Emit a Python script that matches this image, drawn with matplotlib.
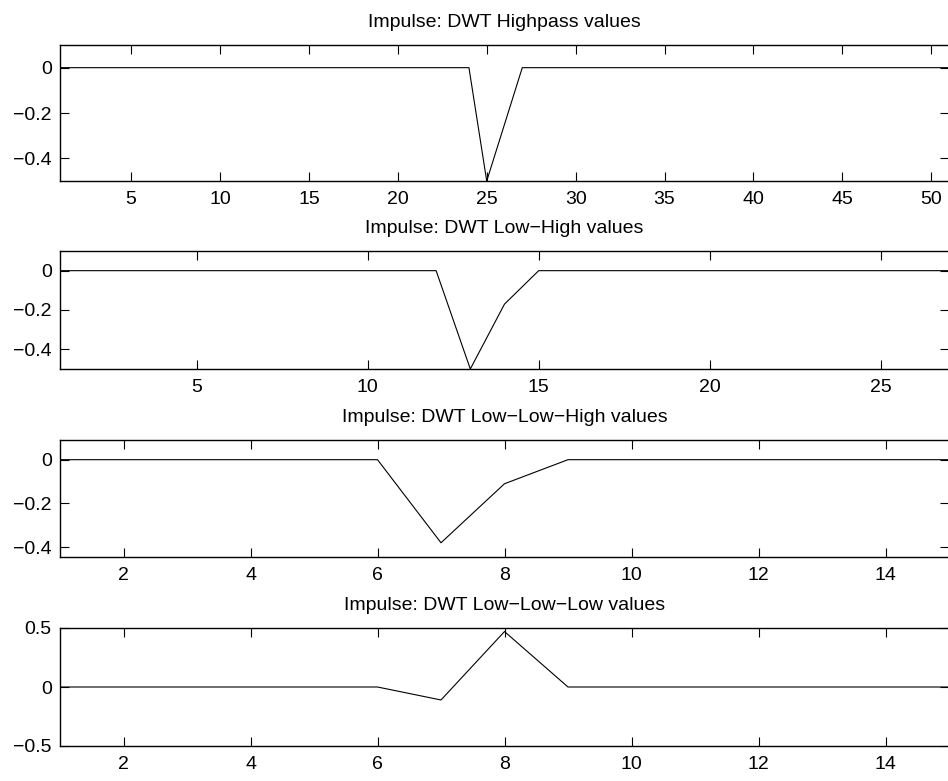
import matplotlib.pyplot as plt
import numpy as np

plt.rcParams['font.family'] = ['Liberation Sans', 'DejaVu Sans']
plt.rcParams['font.size'] = 14

# impulse responses (sample index starts at 1)
highpass = [0, 0, 0, 0, 0, 0, 0, 0, 0, 0,
            0, 0, 0, 0, 0, 0, 0, 0, 0, 0,
            0, 0, 0, 0, -0.5, -0.25, 0, 0, 0, 0,
            0, 0, 0, 0, 0, 0, 0, 0, 0, 0,
            0, 0, 0, 0, 0, 0, 0, 0, 0, 0,
            0]
low_high = [0, 0, 0, 0, 0, 0, 0, 0, 0, 0,
            0, 0, -0.5, -0.17, 0, 0, 0, 0, 0, 0,
            0, 0, 0, 0, 0, 0, 0]
low_low_high = [0, 0, 0, 0, 0, 0, -0.38, -0.11, 0, 0, 0, 0, 0, 0, 0]
low_low_low = [0, 0, 0, 0, 0, 0, -0.11, 0.47, 0, 0, 0, 0, 0, 0, 0]

titles = ['Impulse: DWT Highpass values',
          'Impulse: DWT Low\u2212High values',
          'Impulse: DWT Low\u2212Low\u2212High values',
          'Impulse: DWT Low\u2212Low\u2212Low values']
series = [highpass, low_high, low_low_high, low_low_low]
xticks = [[5, 10, 15, 20, 25, 30, 35, 40, 45, 50],
          [5, 10, 15, 20, 25],
          [2, 4, 6, 8, 10, 12, 14],
          [2, 4, 6, 8, 10, 12, 14]]
yticks = [[-0.4, -0.2, 0], [-0.4, -0.2, 0], [-0.4, -0.2, 0], [-0.5, 0, 0.5]]
ylims = [(-0.5, 0.1), (-0.5, 0.1), (-0.445, 0.09), (-0.5, 0.5)]
xlims = [(1, 51), (1, 27), (1, 15), (1, 15)]

W, H = 948, 781
fig = plt.figure(figsize=(W / 100, H / 100), dpi=100)

# axes boxes in pixels: (top, bottom)
boxes = [(45, 181), (251, 369), (440, 557), (628, 746)]
left, right = 60, 949

for i in range(4):
    top, bot = boxes[i]
    ax = fig.add_axes([left / W, 1 - bot / H, (right - left) / W, (bot - top) / H])
    y = series[i]
    x = np.arange(1, len(y) + 1)
    ax.plot(x, y, color='black', lw=0.8)
    ax.set_xlim(*xlims[i])
    ax.set_ylim(*ylims[i])
    ax.set_xticks(xticks[i])
    ax.set_yticks(yticks[i])
    ax.set_yticklabels([('%g' % v).replace('-', '\u2212') for v in yticks[i]])
    ax.tick_params(direction='in', top=True, right=True, length=6.5, width=0.8,
                   labelsize=14)
    ax.tick_params(axis='x', pad=7)
    ax.tick_params(axis='y', pad=6)
    for s in ax.spines.values():
        s.set_linewidth(1.0)
    ax.set_title(titles[i], fontsize=14, pad=13)

fig.savefig('out.png', dpi=100)
